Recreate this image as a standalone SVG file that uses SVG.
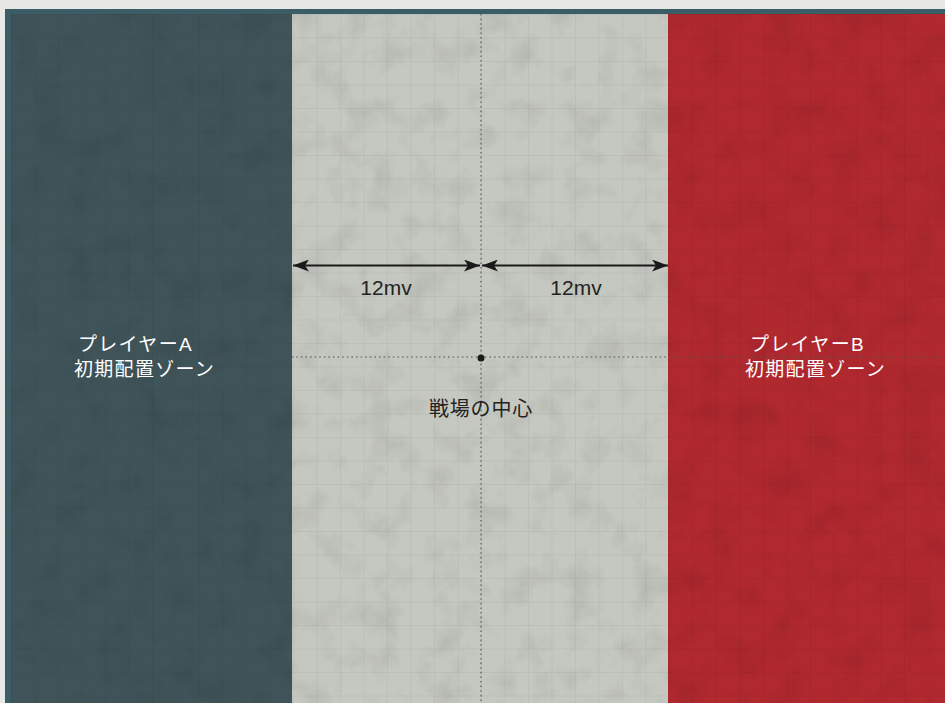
<svg xmlns="http://www.w3.org/2000/svg" width="945" height="703" viewBox="0 0 945 703">
  <style>
    .zone-label { font-family: "Liberation Sans", "Noto Sans CJK JP", sans-serif; font-size: 19px; letter-spacing: 1.3px; fill: #ffffff; }
    .dim { font-family: "Liberation Sans", "Noto Sans CJK JP", sans-serif; font-size: 21px; fill: #222222; }
    .center-label { font-family: "Liberation Sans", "Noto Sans CJK JP", sans-serif; font-size: 20px; letter-spacing: 0.8px; fill: #222222; }
    .arrow { stroke: #1a1a1a; stroke-width: 2; fill: none; marker-start: url(#head); marker-end: url(#head); }
    .guide { stroke: #555555; stroke-width: 1.6; stroke-dasharray: 1.6 3; fill: none; opacity: 0.7; }
  </style>
  <defs>
    <marker id="head" viewBox="0 0 16 12" refX="16" refY="6" markerWidth="16" markerHeight="12" markerUnits="userSpaceOnUse" orient="auto-start-reverse">
      <path d="M0,0 L16,6 L0,12 L4,6 Z" fill="#1a1a1a"/>
    </marker>
    <pattern id="grid" width="23.5" height="23.5" patternUnits="userSpaceOnUse" x="11" y="14">
      <path d="M23.5,0 L0,0 L0,23.5" fill="none" stroke="#000" stroke-opacity="0.08" stroke-width="1"/>
    </pattern>
    <filter id="grunge" x="0" y="0" width="100%" height="100%">
      <feTurbulence type="fractalNoise" baseFrequency="0.03" numOctaves="4" seed="7" result="n"/>
      <feColorMatrix type="matrix" values="0 0 0 0 0  0 0 0 0 0  0 0 0 0 0  0 0 0 -1.4 0.75" />
    </filter>
  </defs>

  <rect x="0" y="0" width="945" height="703" fill="#e7e7e5"/>
  <rect x="5" y="9" width="945" height="700" fill="#3b5d67"/>

  <g id="zone-a">
    <rect x="11" y="14" width="281" height="689" fill="#3f5459"/>
  </g>
  <g id="zone-middle">
    <rect x="292" y="14" width="376" height="689" fill="#c5c8c0"/>
  </g>
  <g id="zone-b">
    <rect x="668" y="14" width="277" height="689" fill="#b0292f"/>
  </g>

  <rect x="11" y="14" width="934" height="689" fill="url(#grid)"/>
  <rect x="11" y="14" width="934" height="689" filter="url(#grunge)" opacity="0.12"/>

  <g id="connectors">
    <line class="guide" x1="11" y1="357" x2="945" y2="357"/>
    <line class="guide" x1="481" y1="14" x2="481" y2="703"/>
    <line class="arrow" x1="293" y1="265.5" x2="480" y2="265.5"/>
    <line class="arrow" x1="482" y1="265.5" x2="668" y2="265.5"/>
  </g>

  <g id="dim-left"><text class="dim" x="386" y="295" text-anchor="middle">12mv</text></g>
  <g id="dim-right"><text class="dim" x="576" y="295" text-anchor="middle">12mv</text></g>

  <g id="center">
    <circle cx="481" cy="358" r="3.5" fill="#1a1a1a"/>
    <text class="center-label" x="481" y="416" text-anchor="middle">戦場の中心</text>
  </g>

  <g id="label-a">
    <text class="zone-label" x="78" y="351">プレイヤーA</text>
    <text class="zone-label" x="74" y="376">初期配置ゾーン</text>
  </g>
  <g id="label-b">
    <text class="zone-label" x="750" y="351">プレイヤーB</text>
    <text class="zone-label" x="745" y="376">初期配置ゾーン</text>
  </g>
</svg>
